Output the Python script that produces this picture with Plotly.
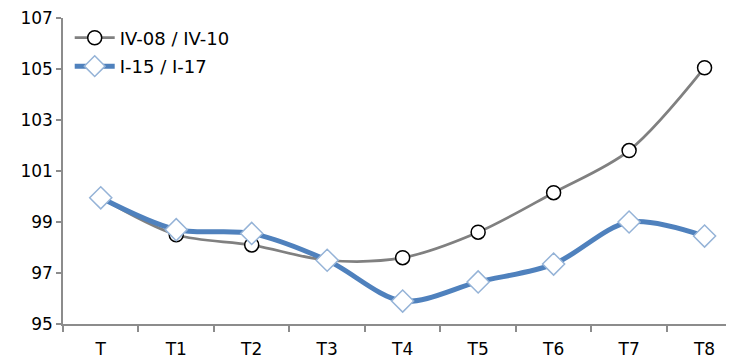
import plotly.graph_objects as go

CATEGORIES = ["T", "T1", "T2", "T3", "T4", "T5", "T6", "T7", "T8"]
SERIES_A_NAME = "IV-08 / IV-10"
SERIES_A = [99.95, 98.5, 98.1, 97.5, 97.6, 98.6, 100.15, 101.8, 105.05]
SERIES_B_NAME = "I-15 / I-17"
SERIES_B = [99.95, 98.7, 98.55, 97.5, 95.9, 96.65, 97.35, 99.0, 98.45]
Y_TICKS = [95, 97, 99, 101, 103, 105, 107]

FONT = "DejaVu Sans"
AXIS_COLOR = "#8c8c8c"

fig = go.Figure()

fig.add_trace(go.Scatter(
    x=CATEGORIES, y=SERIES_A, name=SERIES_A_NAME, legendgroup="a",
    mode="lines+markers",
    line=dict(color="#808080", width=2.75, shape="spline", smoothing=0.9),
    marker=dict(symbol="circle", size=14, color="white",
                line=dict(color="black", width=1.5)),
))
fig.add_trace(go.Scatter(
    x=CATEGORIES, y=SERIES_B, name=SERIES_B_NAME, legendgroup="b",
    mode="lines+markers",
    line=dict(color="#4F81BD", width=5, shape="spline", smoothing=0.9),
    marker=dict(symbol="diamond", size=17, color="white",
                line=dict(color="#95B3D7", width=1.5)),
))

# page body adds an 8px offset, so the figure is drawn 8px smaller
fig.update_layout(
    width=726, height=356,
    margin=dict(l=55, r=0, t=8, b=40),
    plot_bgcolor="white",
    paper_bgcolor="white",
    font=dict(family=FONT, size=17, color="black"),
    showlegend=True,
    legend=dict(x=0.01, y=0.995, xanchor="left", yanchor="top",
                bgcolor="rgba(0,0,0,0)", font=dict(size=18),
                traceorder="grouped", tracegroupgap=2, itemwidth=40),
    xaxis=dict(
        type="category", range=[-0.5, 8.39],
        showline=True, linecolor=AXIS_COLOR, linewidth=1.5,
        ticks="outside", tickson="boundaries", ticklen=6,
        tickcolor=AXIS_COLOR, tickwidth=1.5,
        showgrid=False, zeroline=False,
        tickfont=dict(size=17), ticklabelstandoff=9,
    ),
    yaxis=dict(
        range=[95, 107], tickvals=Y_TICKS,
        showline=True, linecolor=AXIS_COLOR, linewidth=1.5,
        ticks="outside", ticklen=5, tickcolor=AXIS_COLOR, tickwidth=1.5,
        showgrid=False, zeroline=False, ticklabeloverflow="allow",
        tickfont=dict(size=17),
    ),
)

fig.write_html("out.html")
